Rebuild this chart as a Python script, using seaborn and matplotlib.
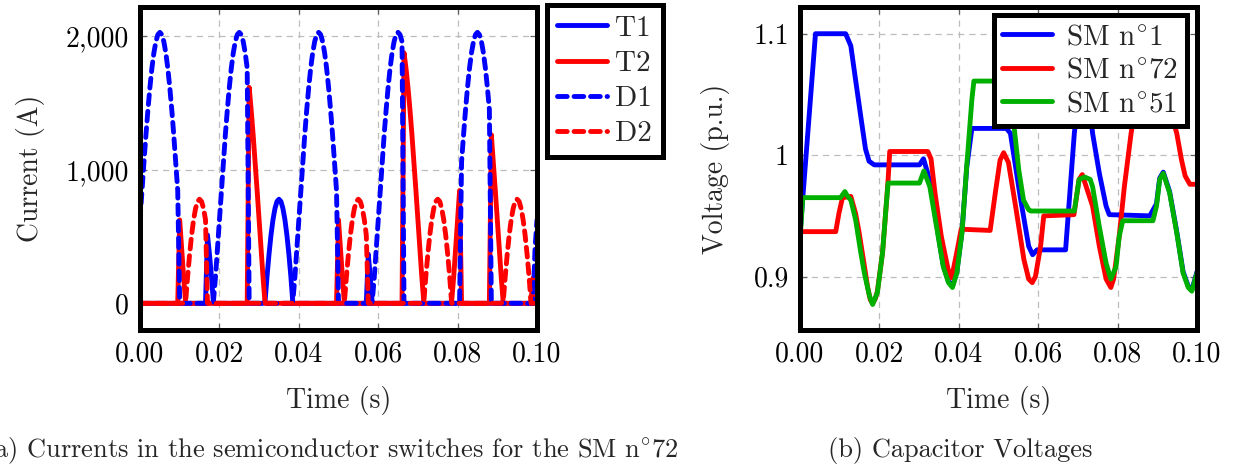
import numpy as np
import pandas as pd
import matplotlib
matplotlib.use('Agg')
import matplotlib.pyplot as plt
import seaborn as sns
from matplotlib.ticker import FuncFormatter, FixedLocator

# ---- (a) arm current of SM n°72, sampled every 0.5 ms (A, signed) ----
t_cur = np.linspace(0.0, 0.1, 201)
i_arm = [
    625, 845, 1059, 1263, 1451, 1618, 1762, 1877, 1961, 2013,
    2030, 2013, 1961, 1877, 1762, 1618, 1451, 1263, 1059, 845,
    625, 405, 191, -13, -201, -368, -512, -627, -711, -763,
    -780, -763, -711, -627, -512, -368, -201, -13, 191, 405,
    625, 845, 1059, 1263, 1451, 1618, 1762, 1877, 1961, 2013,
    2030, 2013, 1961, 1877, 1762, 1618, 1451, 1263, 1059, 845,
    625, 405, 191, -13, -201, -368, -512, -627, -711, -763,
    -780, -763, -711, -627, -512, -368, -201, -13, 191, 405,
    625, 845, 1059, 1263, 1451, 1618, 1762, 1877, 1961, 2013,
    2030, 2013, 1961, 1877, 1762, 1618, 1451, 1263, 1059, 845,
    625, 405, 191, -13, -201, -368, -512, -627, -711, -763,
    -780, -763, -711, -627, -512, -368, -201, -13, 191, 405,
    625, 845, 1059, 1263, 1451, 1618, 1762, 1877, 1961, 2013,
    2030, 2013, 1961, 1877, 1762, 1618, 1451, 1263, 1059, 845,
    625, 405, 191, -13, -201, -368, -512, -627, -711, -763,
    -780, -763, -711, -627, -512, -368, -201, -13, 191, 405,
    625, 845, 1059, 1263, 1451, 1618, 1762, 1877, 1961, 2013,
    2030, 2013, 1961, 1877, 1762, 1618, 1451, 1263, 1059, 845,
    625, 405, 191, -13, -201, -368, -512, -627, -711, -763,
    -780, -763, -711, -627, -512, -368, -201, -13, 191, 405,
    625,
]

# conduction intervals (s) of each semiconductor
T1_on = [(0.017, 0.0185), (0.0315, 0.0385), (0.0575, 0.0585)]
T2_on = [(0.010, 0.0115), (0.0275, 0.0315), (0.050, 0.0515), (0.0665, 0.0715),
         (0.0785, 0.081), (0.0885, 0.0915), (0.0985, 0.0995)]
D1_on = [(0.0, 0.010), (0.0185, 0.0275), (0.0385, 0.050), (0.0585, 0.0665),
         (0.081, 0.0885), (0.0995, 0.1001)]
D2_on = [(0.0115, 0.017), (0.0515, 0.0575), (0.0715, 0.0785), (0.0915, 0.0985)]

# ---- (b) capacitor voltages (p.u.) ----
t_sm1 = [0.0, 0.0039, 0.0115, 0.0128, 0.014, 0.0153, 0.0165, 0.0174, 0.0187, 0.0301,
         0.0311, 0.0322, 0.0334, 0.0344, 0.0361, 0.0374, 0.0384, 0.0395, 0.0408, 0.042,
         0.0433, 0.052, 0.053, 0.0555, 0.0576, 0.0586, 0.0597, 0.0669, 0.0691, 0.070,
         0.0728, 0.0737, 0.0754, 0.0771, 0.0779, 0.0881, 0.0898, 0.0906, 0.0915, 0.0931,
         0.0949, 0.0965, 0.0978, 0.0987, 0.1]
v_sm1 = [0.935, 1.100, 1.100, 1.090, 1.062, 1.032, 1.005, 0.995, 0.992, 0.992,
         0.997, 0.985, 0.965, 0.943, 0.909, 0.896, 0.892, 0.904, 0.937, 0.990,
         1.022, 1.022, 1.018, 0.965, 0.925, 0.918, 0.922, 0.922, 1.018, 1.045,
         1.045, 1.018, 0.985, 0.958, 0.951, 0.950, 0.960, 0.981, 0.986, 0.970,
         0.937, 0.904, 0.892, 0.889, 0.904]

t_sm72 = [0.0, 0.009, 0.0098, 0.0107, 0.0128, 0.014, 0.0149, 0.0162, 0.017, 0.0177,
          0.0183, 0.019, 0.0195, 0.0208, 0.0217, 0.0222, 0.0226, 0.0322, 0.033, 0.034,
          0.0356, 0.0373, 0.0382, 0.0395, 0.0406, 0.0479, 0.0492, 0.0504, 0.0513, 0.0525,
          0.0543, 0.0564, 0.0576, 0.0585, 0.0593, 0.0606, 0.0614, 0.069, 0.0703, 0.0711,
          0.0737, 0.0754, 0.0771, 0.0783, 0.079, 0.0804, 0.0817, 0.0834, 0.0845, 0.093,
          0.0949, 0.0961, 0.097, 0.0982, 0.1]
v_sm72 = [0.937, 0.937, 0.952, 0.965, 0.966, 0.952, 0.936, 0.909, 0.892, 0.881,
          0.878, 0.882, 0.888, 0.920, 0.958, 0.980, 1.003, 1.003, 0.997, 0.969,
          0.933, 0.906, 0.899, 0.920, 0.939, 0.938, 0.969, 0.996, 1.002, 0.994,
          0.958, 0.914, 0.898, 0.895, 0.900, 0.925, 0.950, 0.951, 0.980, 0.984,
          0.958, 0.925, 0.898, 0.891, 0.898, 0.933, 0.974, 1.018, 1.040, 1.040,
          1.018, 0.996, 0.983, 0.976, 0.976]

t_sm51 = [0.0, 0.0007, 0.0102, 0.0113, 0.012, 0.0128, 0.014, 0.0153, 0.0162, 0.0175,
          0.0183, 0.0195, 0.0208, 0.0217, 0.0222, 0.0301, 0.0312, 0.0327, 0.0344, 0.0361,
          0.0374, 0.0384, 0.0395, 0.0408, 0.042, 0.0433, 0.0438, 0.052, 0.0533, 0.0541,
          0.0551, 0.0563, 0.0576, 0.0581, 0.0691, 0.0703, 0.0717, 0.0731, 0.0737, 0.0754,
          0.0771, 0.0783, 0.0796, 0.0804, 0.0813, 0.0889, 0.0898, 0.0906, 0.0915, 0.0931,
          0.0949, 0.0965, 0.0978, 0.0987, 0.1]
v_sm51 = [0.930, 0.965, 0.965, 0.970, 0.966, 0.963, 0.947, 0.920, 0.903, 0.884,
          0.877, 0.887, 0.920, 0.958, 0.977, 0.977, 0.987, 0.974, 0.941, 0.908,
          0.895, 0.891, 0.903, 0.936, 0.991, 1.046, 1.061, 1.061, 1.045, 1.018,
          0.988, 0.963, 0.955, 0.954, 0.954, 0.980, 0.982, 0.980, 0.974, 0.941,
          0.911, 0.898, 0.908, 0.933, 0.946, 0.946, 0.958, 0.980, 0.985, 0.969,
          0.936, 0.903, 0.891, 0.888, 0.903]

x_ticks = [0.0, 0.02, 0.04, 0.06, 0.08, 0.1]
cur_ticks = [0, 1000, 2000]
volt_ticks = [0.9, 1.0, 1.1]


def device_current(windows):
    on = np.zeros(len(t_cur), dtype=bool)
    for a, b in windows:
        on |= (t_cur >= a - 1e-9) & (t_cur < b - 1e-9)
    return np.where(on, np.abs(np.array(i_arm)), 0)


sns.set_theme(style='white')
plt.rcParams['font.family'] = ['cmr10', 'DejaVu Serif']
plt.rcParams['mathtext.fontset'] = 'cm'
plt.rcParams['axes.formatter.use_mathtext'] = True

BLUE, RED, GREEN = '#0000ff', '#ff0000', '#00b000'
LW = 3.5
DASH = (0, (2.0, 1.4))
FS = 20
DEG = r'$^{\circ}$'

fig = plt.figure(figsize=(12.36, 4.66), dpi=100)
axA = fig.add_axes([140 / 1236, 1 - 330 / 466, 397 / 1236, 323 / 466])
axB = fig.add_axes([800 / 1236, 1 - 330 / 466, 397 / 1236, 323 / 466])

df = pd.DataFrame({'t': t_cur,
                   'T1': device_current(T1_on), 'T2': device_current(T2_on),
                   'D1': device_current(D1_on), 'D2': device_current(D2_on)})

sns.lineplot(data=df, x='t', y='T1', ax=axA, color=BLUE, lw=LW, estimator=None, label='T1')
sns.lineplot(data=df, x='t', y='T2', ax=axA, color=RED, lw=LW, estimator=None, label='T2')
sns.lineplot(data=df, x='t', y='D1', ax=axA, color=BLUE, lw=LW, estimator=None, label='D1',
             linestyle=DASH, dash_capstyle='round')
sns.lineplot(data=df, x='t', y='D2', ax=axA, color=RED, lw=LW, estimator=None, label='D2',
             linestyle=DASH, dash_capstyle='round')

sns.lineplot(x=t_sm1, y=v_sm1, ax=axB, color=BLUE, lw=LW, estimator=None, label='SM n' + DEG + '1')
sns.lineplot(x=t_sm72, y=v_sm72, ax=axB, color=RED, lw=LW, estimator=None, label='SM n' + DEG + '72')
sns.lineplot(x=t_sm51, y=v_sm51, ax=axB, color=GREEN, lw=LW, estimator=None, label='SM n' + DEG + '51')

for ax in (axA, axB):
    ax.set_xlim(0, 0.1)
    ax.xaxis.set_major_locator(FixedLocator(x_ticks))
    ax.xaxis.set_major_formatter(FuncFormatter(lambda v, p: f'{v:.2f}'))
    ax.grid(True, linestyle=(0, (5, 4)), color='#bdbdbd', lw=0.9)
    ax.set_axisbelow(True)
    for sp in ax.spines.values():
        sp.set_color('black')
        sp.set_linewidth(3.6)
    ax.tick_params(direction='in', length=5, width=0.9, color='#606060',
                   bottom=True, left=True, top=True, right=True,
                   labelsize=FS, pad=8, labelcolor='black')
    ax.set_xlabel('Time (s)', fontsize=FS)
    ax.xaxis.label.set_va('center')
    ax.xaxis.set_label_coords(0.5, -0.217)
    ax.yaxis.label.set_va('center')
    ax.yaxis.label.set_ha('center')

axA.set_ylim(-200, 2220)
axA.yaxis.set_major_locator(FixedLocator(cur_ticks))
axA.yaxis.set_major_formatter(FuncFormatter(lambda v, p: f'{v:,.0f}'))
axA.set_ylabel('Current (A)', fontsize=FS)
axA.yaxis.set_label_coords(-0.277, 0.5)

axB.set_ylim(0.856, 1.122)
axB.yaxis.set_major_locator(FixedLocator(volt_ticks))
axB.yaxis.set_major_formatter(FuncFormatter(lambda v, p: f'{v:g}'))
axB.set_ylabel('Voltage (p.u.)', fontsize=FS)
axB.yaxis.set_label_coords(-0.214, 0.5)

legA = axA.legend(loc='upper left', bbox_to_anchor=(1.025, 1.006), borderaxespad=0,
                  fontsize=21, handlelength=1.7, handletextpad=0.3, labelspacing=0.3,
                  borderpad=0.35, frameon=True, fancybox=False, framealpha=1,
                  edgecolor='black')
legA.get_frame().set_linewidth(3.6)
legB = axB.legend(loc='upper right', bbox_to_anchor=(0.975, 0.975), borderaxespad=0,
                  fontsize=21, handlelength=1.7, handletextpad=0.5, labelspacing=0.25,
                  borderpad=0.3, frameon=True, fancybox=False, framealpha=1,
                  edgecolor='black')
legB.get_frame().set_linewidth(3.6)

fig.text(331 / 1236, 16 / 466,
         '(a) Currents in the semiconductor switches for the SM n' + DEG + '72',
         ha='center', va='center', fontsize=19)
fig.text(960 / 1236, 16 / 466, '(b) Capacitor Voltages', ha='center', va='center', fontsize=19)

fig.savefig('out.png', dpi=100)
